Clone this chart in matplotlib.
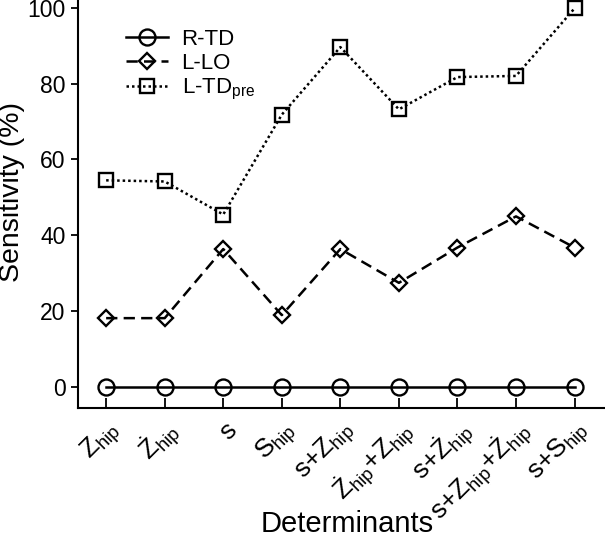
import matplotlib
matplotlib.use("Agg")
import matplotlib.pyplot as plt
import matplotlib.transforms as mtransforms

plt.rcParams['font.family'] = ['Liberation Sans', 'DejaVu Sans']
plt.rcParams['mathtext.fontset'] = 'custom'
plt.rcParams['mathtext.rm'] = 'Liberation Sans'
plt.rcParams['mathtext.it'] = 'Liberation Sans'
plt.rcParams['mathtext.bf'] = 'Liberation Sans:bold'

# data
determinants = [r'$Z_{hip}$', r'$\dot{Z}_{hip}$', r'$s$', r'$S_{hip}$',
                r's+$Z_{hip}$', r'$\dot{Z}_{hip}$+$Z_{hip}$', r's+$\dot{Z}_{hip}$',
                r's+$Z_{hip}$+$\dot{Z}_{hip}$', r's+$S_{hip}$']
r_td = [0, 0, 0, 0, 0, 0, 0, 0, 0]
l_lo = [18.2, 18.2, 36.4, 19.0, 36.4, 27.5, 36.8, 45.0, 36.8]
l_td_pre = [54.5, 54.2, 45.5, 71.8, 89.6, 73.2, 81.7, 82.0, 99.8]

x = list(range(len(determinants)))

fig = plt.figure(figsize=(6.05, 5.37), dpi=100)
ax = fig.add_axes([0.129, 0.240, 0.871, 0.760])

common = dict(color='black', lw=1.8, mfc='none', mec='black', mew=1.7)
ax.plot(x, r_td, '-', marker='o', ms=11.5, label='R-TD', **common)
ax.plot(x, l_lo, '--', marker='D', ms=8.5, dashes=(4.5, 2.5), label='L-LO', **common)
ax.plot(x, l_td_pre, ':', marker='s', ms=10.5, dashes=(1, 1.2), label=r'L-TD$_{\mathrm{pre}}$', **common)

ax.set_xlim(-0.48, 8.52)
ax.set_ylim(-5.5, 102)
ax.set_yticks([0, 20, 40, 60, 80, 100])
ax.set_xticks(x)
ax.tick_params(axis='x', labelbottom=False)

# rotated category labels, shifted a bit right of their ticks
offset = mtransforms.ScaledTranslation(10 / 100, -18 / 100, fig.dpi_scale_trans)
for i, name in zip(x, determinants):
    ax.text(i, 0, name, transform=ax.get_xaxis_transform() + offset,
            rotation=45, ha='right', va='center', rotation_mode='anchor',
            fontsize=19, clip_on=False)

ax.tick_params(axis='y', direction='out', length=5, width=1.3, labelsize=16.5, pad=4)
ax.tick_params(axis='x', direction='in', length=7, width=1.3)
for side in ['top', 'right']:
    ax.spines[side].set_visible(False)
for side in ['left', 'bottom']:
    ax.spines[side].set_linewidth(1.5)

ax.set_xlabel('Determinants', fontsize=21)
ax.set_ylabel('Sensitivity (%)', fontsize=20.5)
ax.xaxis.set_label_coords(0.51, -0.25)
ax.yaxis.set_label_coords(-0.101, 0.53)

ax.legend(loc='upper left', bbox_to_anchor=(0.07, 0.957), frameon=False, fontsize=16,
          handlelength=1.9, handletextpad=0.6, labelspacing=0.15, borderpad=0.0)

fig.savefig('out.png', dpi=100)
